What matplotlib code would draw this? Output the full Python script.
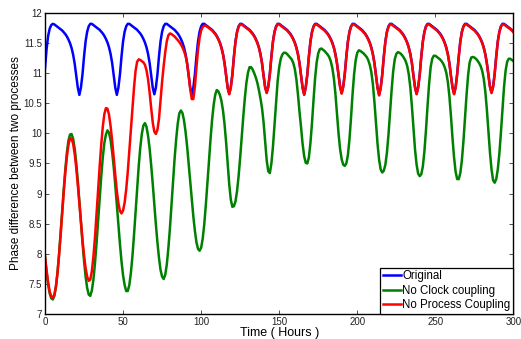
import numpy as np
import matplotlib
matplotlib.use("Agg")
import matplotlib.pyplot as plt
from matplotlib.ticker import FormatStrFormatter

plt.rcParams['font.family'] = ['Liberation Sans', 'DejaVu Sans']

original = [
    11.08, 11.40, 11.62, 11.74, 11.80, 11.82, 11.81, 11.79, 11.77, 11.75,
    11.73, 11.71, 11.68, 11.65, 11.61, 11.56, 11.50, 11.42, 11.31, 11.16,
    10.96, 10.76, 10.64, 10.76, 10.98, 11.28, 11.53, 11.69, 11.78, 11.82,
    11.82, 11.80, 11.78, 11.76, 11.74, 11.72, 11.69, 11.66, 11.62, 11.57,
    11.51, 11.43, 11.32, 11.17, 10.96, 10.76, 10.64, 10.76, 10.98, 11.28,
    11.53, 11.69, 11.78, 11.82, 11.82, 11.80, 11.78, 11.76, 11.74, 11.72,
    11.69, 11.66, 11.62, 11.57, 11.51, 11.43, 11.32, 11.17, 10.96, 10.76,
    10.65, 10.76, 10.98, 11.28, 11.53, 11.69, 11.78, 11.82, 11.82, 11.80,
    11.78, 11.76, 11.74, 11.72, 11.69, 11.66, 11.62, 11.57, 11.51, 11.43,
    11.32, 11.17, 10.96, 10.76, 10.64, 10.76, 10.98, 11.28, 11.53, 11.69,
    11.78, 11.82, 11.82, 11.80, 11.78, 11.76, 11.74, 11.72, 11.69, 11.66,
    11.62, 11.57, 11.51, 11.43, 11.32, 11.17, 10.96, 10.76, 10.66, 10.77,
    10.98, 11.28, 11.53, 11.69, 11.78, 11.82, 11.82, 11.80, 11.78, 11.76,
    11.74, 11.72, 11.69, 11.66, 11.62, 11.57, 11.51, 11.43, 11.32, 11.17,
    10.96, 10.77, 10.68, 10.78, 10.99, 11.28, 11.53, 11.69, 11.78, 11.82,
    11.82, 11.80, 11.78, 11.76, 11.74, 11.72, 11.69, 11.66, 11.62, 11.57,
    11.51, 11.43, 11.32, 11.17, 10.96, 10.76, 10.65, 10.77, 10.98, 11.28,
    11.53, 11.69, 11.78, 11.82, 11.82, 11.80, 11.78, 11.76, 11.74, 11.72,
    11.69, 11.66, 11.62, 11.57, 11.51, 11.43, 11.32, 11.17, 10.97, 10.78,
    10.67, 10.78, 10.99, 11.28, 11.53, 11.69, 11.78, 11.82, 11.82, 11.80,
    11.78, 11.76, 11.74, 11.72, 11.69, 11.66, 11.62, 11.57, 11.51, 11.43,
    11.32, 11.17, 10.96, 10.76, 10.64, 10.76, 10.98, 11.28, 11.53, 11.69,
    11.78, 11.82, 11.82, 11.80, 11.78, 11.76, 11.74, 11.72, 11.69, 11.66,
    11.62, 11.57, 11.51, 11.43, 11.32, 11.17, 10.96, 10.77, 10.66, 10.77,
    10.98, 11.28, 11.53, 11.69, 11.78, 11.82, 11.82, 11.80, 11.78, 11.76,
    11.74, 11.72, 11.69, 11.66, 11.62, 11.57, 11.51, 11.43, 11.32, 11.17,
    10.96, 10.77, 10.66, 10.77, 10.99, 11.28, 11.53, 11.69, 11.78, 11.82,
    11.82, 11.80, 11.78, 11.76, 11.74, 11.72, 11.69, 11.66, 11.62, 11.57,
    11.51, 11.43, 11.32, 11.17, 10.97, 10.78, 10.68, 10.78, 10.99, 11.28,
    11.53, 11.69, 11.78, 11.82, 11.82, 11.80, 11.78, 11.76, 11.74, 11.72,
    11.69,
]

no_clock = [
    7.95, 7.70, 7.49, 7.34, 7.26, 7.24, 7.30, 7.45, 7.69, 7.99,
    8.34, 8.71, 9.07, 9.40, 9.68, 9.88, 9.98, 9.99, 9.91, 9.75,
    9.51, 9.21, 8.88, 8.53, 8.19, 7.88, 7.62, 7.43, 7.32, 7.30,
    7.39, 7.57, 7.84, 8.17, 8.54, 8.92, 9.28, 9.60, 9.84, 9.98,
    10.05, 10.01, 9.89, 9.69, 9.44, 9.14, 8.81, 8.48, 8.16, 7.87,
    7.64, 7.48, 7.38, 7.38, 7.48, 7.68, 7.96, 8.31, 8.69, 9.08,
    9.45, 9.76, 9.99, 10.13, 10.17, 10.11, 9.96, 9.75, 9.47, 9.16,
    8.82, 8.49, 8.19, 7.93, 7.73, 7.62, 7.58, 7.65, 7.82, 8.09,
    8.42, 8.80, 9.20, 9.58, 9.90, 10.16, 10.33, 10.38, 10.34, 10.22,
    10.03, 9.79, 9.50, 9.20, 8.90, 8.62, 8.38, 8.19, 8.08, 8.05,
    8.10, 8.25, 8.49, 8.81, 9.16, 9.53, 9.90, 10.22, 10.47, 10.64,
    10.72, 10.70, 10.64, 10.54, 10.38, 10.15, 9.85, 9.50, 9.15, 8.90,
    8.78, 8.79, 8.87, 9.04, 9.29, 9.60, 9.94, 10.28, 10.59, 10.84,
    11.01, 11.10, 11.10, 11.06, 11.00, 10.93, 10.84, 10.72, 10.58, 10.42,
    10.18, 9.86, 9.55, 9.37, 9.34, 9.50, 9.78, 10.15, 10.53, 10.87,
    11.10, 11.24, 11.31, 11.34, 11.34, 11.32, 11.29, 11.26, 11.23, 11.17,
    11.07, 10.90, 10.65, 10.36, 10.10, 9.82, 9.62, 9.51, 9.50, 9.60,
    9.84, 10.17, 10.56, 10.92, 11.18, 11.33, 11.40, 11.41, 11.39, 11.37,
    11.34, 11.31, 11.27, 11.20, 11.09, 10.92, 10.66, 10.34, 10.00, 9.74,
    9.57, 9.48, 9.46, 9.50, 9.64, 9.90, 10.26, 10.66, 10.99, 11.22,
    11.34, 11.38, 11.37, 11.35, 11.33, 11.30, 11.27, 11.22, 11.14, 11.02,
    10.82, 10.52, 10.16, 9.82, 9.56, 9.40, 9.35, 9.38, 9.48, 9.68,
    9.98, 10.35, 10.72, 11.03, 11.23, 11.32, 11.35, 11.34, 11.32, 11.29,
    11.25, 11.20, 11.12, 10.98, 10.76, 10.45, 10.08, 9.73, 9.48, 9.33,
    9.29, 9.32, 9.45, 9.70, 10.05, 10.45, 10.82, 11.10, 11.24, 11.29,
    11.29, 11.27, 11.25, 11.23, 11.20, 11.16, 11.10, 11.01, 10.86, 10.62,
    10.29, 9.92, 9.60, 9.36, 9.24, 9.24, 9.34, 9.55, 9.87, 10.25,
    10.64, 10.97, 11.18, 11.26, 11.27, 11.26, 11.24, 11.21, 11.17, 11.12,
    11.04, 10.91, 10.70, 10.40, 10.03, 9.68, 9.40, 9.22, 9.18, 9.24,
    9.40, 9.66, 10.01, 10.40, 10.77, 11.04, 11.19, 11.24, 11.24, 11.22,
    11.20,
]

no_process = [
    7.95, 7.72, 7.52, 7.37, 7.29, 7.27, 7.32, 7.46, 7.68, 7.98,
    8.31, 8.67, 9.03, 9.35, 9.61, 9.81, 9.92, 9.91, 9.83, 9.66,
    9.43, 9.15, 8.84, 8.52, 8.23, 7.97, 7.76, 7.62, 7.55, 7.57,
    7.71, 7.95, 8.27, 8.65, 9.05, 9.45, 9.81, 10.11, 10.32, 10.42,
    10.41, 10.31, 10.12, 9.88, 9.59, 9.31, 9.04, 8.84, 8.71, 8.67,
    8.72, 8.85, 9.07, 9.36, 9.70, 10.06, 10.42, 10.76, 11.04, 11.19,
    11.23, 11.22, 11.20, 11.18, 11.14, 11.05, 10.90, 10.68, 10.42, 10.18,
    10.03, 9.99, 10.06, 10.24, 10.55, 10.86, 11.12, 11.35, 11.53, 11.63,
    11.66, 11.65, 11.63, 11.61, 11.58, 11.55, 11.52, 11.48, 11.43, 11.37,
    11.29, 11.16, 10.97, 10.74, 10.57, 10.57, 10.78, 11.10, 11.39, 11.59,
    11.71, 11.77, 11.79, 11.79, 11.77, 11.75, 11.73, 11.71, 11.68, 11.65,
    11.61, 11.56, 11.50, 11.42, 11.31, 11.16, 10.95, 10.75, 10.65, 10.76,
    10.97, 11.27, 11.52, 11.68, 11.77, 11.81, 11.81, 11.79, 11.77, 11.75,
    11.73, 11.71, 11.68, 11.65, 11.61, 11.56, 11.50, 11.42, 11.31, 11.16,
    10.95, 10.76, 10.67, 10.77, 10.98, 11.27, 11.52, 11.68, 11.77, 11.81,
    11.81, 11.79, 11.77, 11.75, 11.73, 11.71, 11.68, 11.65, 11.61, 11.56,
    11.50, 11.42, 11.31, 11.16, 10.95, 10.75, 10.64, 10.76, 10.97, 11.27,
    11.52, 11.68, 11.77, 11.81, 11.81, 11.79, 11.77, 11.75, 11.73, 11.71,
    11.68, 11.65, 11.61, 11.56, 11.50, 11.42, 11.31, 11.16, 10.96, 10.77,
    10.66, 10.77, 10.98, 11.27, 11.52, 11.68, 11.77, 11.81, 11.81, 11.79,
    11.77, 11.75, 11.73, 11.71, 11.68, 11.65, 11.61, 11.56, 11.50, 11.42,
    11.31, 11.16, 10.95, 10.75, 10.63, 10.75, 10.97, 11.27, 11.52, 11.68,
    11.77, 11.81, 11.81, 11.79, 11.77, 11.75, 11.73, 11.71, 11.68, 11.65,
    11.61, 11.56, 11.50, 11.42, 11.31, 11.16, 10.95, 10.76, 10.65, 10.76,
    10.97, 11.27, 11.52, 11.68, 11.77, 11.81, 11.81, 11.79, 11.77, 11.75,
    11.73, 11.71, 11.68, 11.65, 11.61, 11.56, 11.50, 11.42, 11.31, 11.16,
    10.95, 10.76, 10.65, 10.76, 10.98, 11.27, 11.52, 11.68, 11.77, 11.81,
    11.81, 11.79, 11.77, 11.75, 11.73, 11.71, 11.68, 11.65, 11.61, 11.56,
    11.50, 11.42, 11.31, 11.16, 10.96, 10.77, 10.67, 10.77, 10.98, 11.27,
    11.52, 11.68, 11.77, 11.81, 11.81, 11.79, 11.77, 11.75, 11.73, 11.71,
    11.68,
]

labels = ['Original', 'No Clock coupling', 'No Process Coupling']
colors = ['#0000ff', '#008000', '#ff0000']
xticks = [0, 50, 100, 150, 200, 250, 300]
yticks = [7, 7.5, 8, 8.5, 9, 9.5, 10, 10.5, 11, 11.5, 12]

fig = plt.figure(figsize=(5.21, 3.39), dpi=100)
ax = fig.add_axes([0.0864, 0.074, 0.899, 0.8876])

for series, lab, col in zip([original, no_clock, no_process], labels, colors):
    ax.plot(np.arange(len(series)), series, color=col, lw=1.8, label=lab)

ax.set_xlim(0, 300)
ax.set_ylim(7, 12)
ax.set_xticks(xticks)
ax.set_yticks(yticks)
ax.yaxis.set_major_formatter(FormatStrFormatter('%g'))
ax.tick_params(direction='in', top=True, right=True, length=3, width=0.6,
               labelsize=7, pad=2, color='#333333', labelcolor='#222222')
for sp in ax.spines.values():
    sp.set_linewidth(1.0)

ax.set_xlabel('Time ( Hours )', fontsize=9, labelpad=0)
ax.set_ylabel('Phase difference between two processes', fontsize=8.5, labelpad=1)

leg = ax.legend(loc='lower right', fontsize=8.3, borderaxespad=0, fancybox=False,
                edgecolor='black', framealpha=1, handlelength=1.5,
                handletextpad=0.15, labelspacing=0.2, borderpad=0.25)
leg.get_frame().set_linewidth(0.9)

fig.savefig('out.png', dpi=100)
